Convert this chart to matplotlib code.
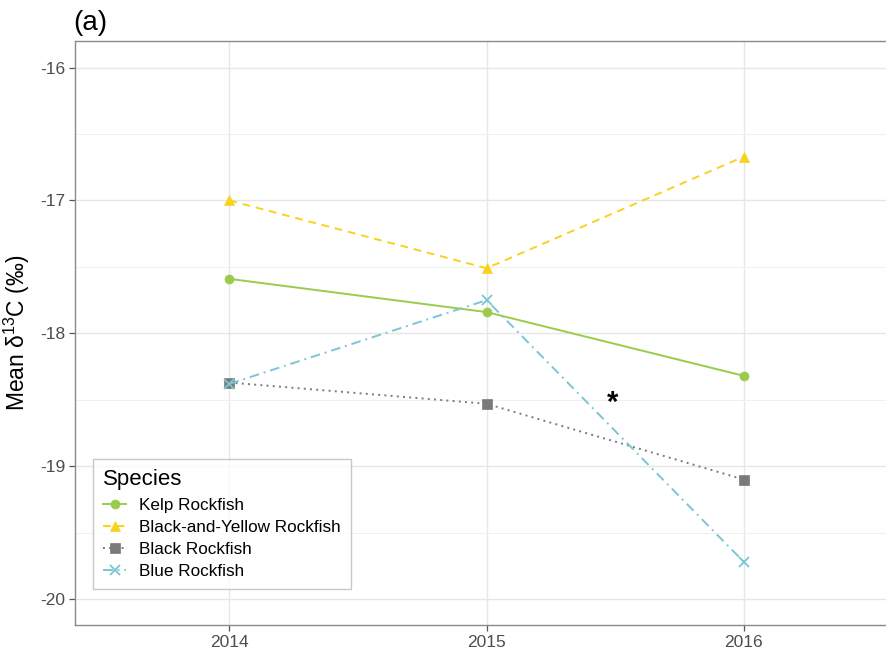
import matplotlib
matplotlib.use("Agg")
import matplotlib.pyplot as plt
from matplotlib.ticker import MultipleLocator

plt.rcParams['font.family'] = ['Liberation Sans', 'DejaVu Sans']

years = [2014, 2015, 2016]
kelp = [-17.59, -17.84, -18.32]
black_yellow = [-17.00, -17.51, -16.67]
black = [-18.37, -18.53, -19.10]
blue = [-18.38, -17.75, -19.72]

species = ["Kelp Rockfish", "Black-and-Yellow Rockfish", "Black Rockfish", "Blue Rockfish"]
series = [kelp, black_yellow, black, blue]
colors = ["#9BCB4B", "#F9D21B", "#7A7A7A", "#79C7D2"]
markers = ["o", "^", "s", "x"]
linestyles = ["-", (0, (4, 3)), (0, (1, 2.2)), (0, (5, 2.5, 1, 2.5))]

star_x, star_y = 2015.49, -18.52

fig = plt.figure(figsize=(8.87, 6.54), dpi=100)
ax = fig.add_axes([0.0846, 0.0443, 0.928, 0.893])

for vals, name, c, m, ls in zip(series, species, colors, markers, linestyles):
    ax.plot(years, vals, color=c, marker=m, linestyle=ls, linewidth=1.4,
            markersize=6.5 if m != "x" else 7, markeredgewidth=1.3 if m == "x" else 0.5,
            label=name)

ax.text(star_x, star_y, "*", fontsize=21, fontweight="bold", ha="center", va="center",
        color="black")

ax.set_xlim(2013.4, 2016.6)
ax.set_ylim(-20.195, -15.80)
ax.set_xticks(years)
ax.set_xticklabels([str(y) for y in years])
ax.yaxis.set_minor_locator(MultipleLocator(0.5))
ax.set_yticks([-16, -17, -18, -19, -20])
ax.set_yticklabels(["-16", "-17", "-18", "-19", "-20"])

ax.grid(True, which="major", color="#E6E6E6", linewidth=1.0)
ax.grid(True, which="minor", axis="y", color="#F0F0F0", linewidth=0.7)
ax.set_axisbelow(True)
ax.tick_params(which="minor", length=0)
ax.tick_params(which="major", length=4, color="#555555", labelcolor="#4D4D4D",
               labelsize=12.5, width=0.9, pad=3)

for side in ["left", "bottom", "top", "right"]:
    ax.spines[side].set_color("#8A8A8A")
    ax.spines[side].set_linewidth(1.0)

ax.set_ylabel(r"Mean $\mathregular{\delta^{13}}$C (‰)", fontsize=16.5, labelpad=6)
ax.set_title("(a)", loc="left", fontsize=20, pad=8, x=-0.002)

leg = ax.legend(loc="lower left", bbox_to_anchor=(0.022, 0.061), title="Species",
                fontsize=12.3, title_fontsize=16, frameon=True, fancybox=False,
                handlelength=1.3, handletextpad=0.8, labelspacing=0.42,
                borderpad=0.6, borderaxespad=0.0, alignment="left")
leg.get_frame().set_edgecolor("#BBBBBB")
leg.get_frame().set_linewidth(1.0)

fig.savefig("out.png", dpi=100)
